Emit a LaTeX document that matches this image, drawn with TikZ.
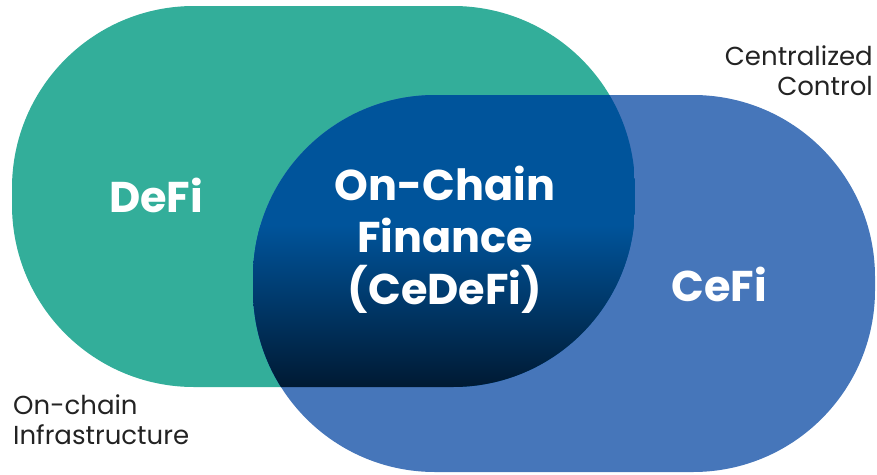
\documentclass[tikz,border=0pt]{standalone}
\usepackage{fontspec}
\setmainfont{Poppins}
\usetikzlibrary{positioning}

\definecolor{defigreen}{RGB}{51,174,154}
\definecolor{cefiblue}{RGB}{70,118,186}
\definecolor{midblue}{RGB}{0,84,155}
\definecolor{deepblue}{RGB}{0,24,48}
\definecolor{labelgray}{RGB}{35,35,35}

\begin{document}
\begin{tikzpicture}[
    x=1pt, y=-1pt,
    bigword/.style={font=\fontsize{43}{52}\selectfont\bfseries, text=white, inner sep=0pt},
    sidenote/.style={font=\fontsize{26}{30}\selectfont, text=labelgray, inner sep=0pt},
    lobe/.style={rounded corners=182pt}
  ]
    \useasboundingbox (0,0) rectangle (877,474);

    % the two overlapping lobes
    \fill[lobe, defigreen] (12,6) rectangle (635,387);
    \fill[lobe, cefiblue] (253,95) rectangle (875,472);

    % overlap, dark towards the bottom
    \begin{scope}
      \clip[lobe] (12,6) rectangle (635,387);
      \clip[lobe] (253,95) rectangle (875,472);
      \fill[midblue] (253,95) rectangle (635,387);
      \shade[top color=midblue, bottom color=deepblue]
        (253,225) rectangle (635,392);
    \end{scope}

    % labels inside
    \node[bigword, anchor=base] (defi) at (156,212) {DeFi};
    \node[bigword, anchor=base] (cefi) at (719,301) {CeFi};
    \node[bigword, align=center] (cedefi) at (445,240) {On-Chain\\Finance\\(CeDeFi)};

    % side notes
    \node[sidenote, align=right, anchor=north east] (ctrl) at (873,46) {Centralized\\Control};
    \node[sidenote, align=left, anchor=north west] (infra) at (13,395) {On-chain\\Infrastructure};
\end{tikzpicture}
\end{document}
